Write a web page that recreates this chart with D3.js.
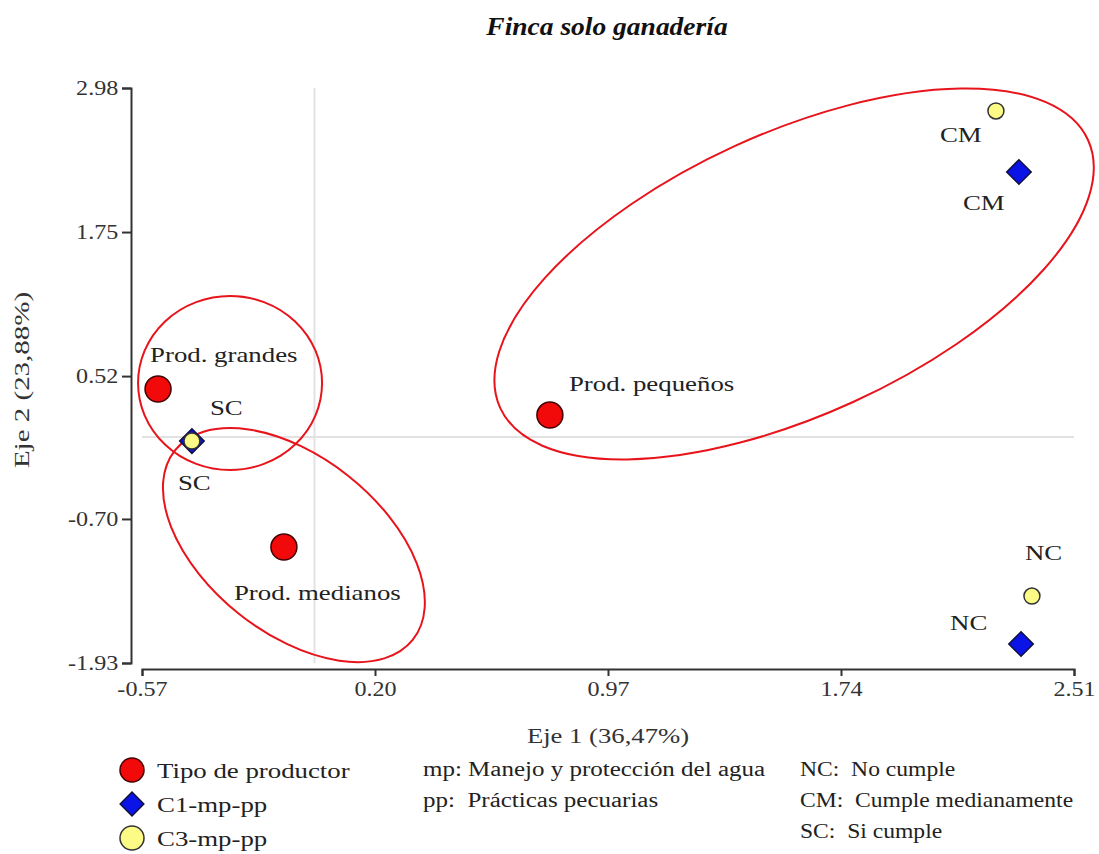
<!DOCTYPE html>
<html>
  <head>
    <meta charset="utf-8">
    <script src="https://d3js.org/d3.v7.min.js"></script>
    <style>
    body { margin: 0; background: #fff; }
    </style>
  </head>
  <body>
    <div id="chart"></div>
    <script>

    // --- data ---
    var prodNames = ["Prod. grandes", "Prod. medianos", "Prod. pequeños"];
    var prodX = [-0.517, -0.101, 0.778];
    var prodY = [0.41, -0.94, 0.187];

    var c1Names = ["SC", "CM", "NC"];
    var c1X = [-0.405, 2.328, 2.335];
    var c1Y = [-0.035, 2.263, -1.768];

    var c3Names = ["SC", "CM", "NC"];
    var c3X = [-0.405, 2.252, 2.371];
    var c3Y = [-0.035, 2.784, -1.358];

    var xTicks = [-0.57, 0.20, 0.97, 1.74, 2.51];
    var yTicks = [-1.93, -0.70, 0.52, 1.75, 2.98];

    // label placement (pixels relative to the mark)
    var prodLabelOff = [[-8, -27], [-50, 53], [19, -24]];
    var c1LabelOff = [[-14, 49], [-56, 38], [-71, -14]];
    var c3LabelOff = [[18, -26], [-56, 31], [-7, -36]];

    // ellipses: centre in data units, semi-axes in pixels, angle in degrees
    var ellipses = [
      {cx: -0.279, cy: 0.461, a: 92, b: 87, angle: 0},
      {cx: -0.068, cy: -0.923, a: 152, b: 88, angle: 38.5},
      {cx: 1.585, cy: 1.392, a: 323, b: 141, angle: -24.5}
    ];

    var serif = "'Liberation Serif', 'Times New Roman', serif";
    var stretch = 1.22;   // the source font is wider than Times
    var width = 1099, height = 854;

    var svg = d3.select("#chart").append("svg")
        .attr("width", width)
        .attr("height", height)
        .style("font-family", serif);

    var x = d3.scaleLinear().domain([-0.57, 2.51]).range([142, 1074]);
    var y = d3.scaleLinear().domain([-1.93, 2.98]).range([663, 88]);

    var fmt = function(d) { return d3.format(".2f")(d).replace("−", "-"); };

    function addText(parent, tx, ty, txt, size, opts) {
      opts = opts || {};
      var t = parent.append("text")
          .attr("transform", "translate(" + tx + "," + ty + ")" + (opts.rotate ? " rotate(" + opts.rotate + ")" : "") + " scale(" + (opts.sx || stretch) + ",1)")
          .attr("text-anchor", opts.anchor || "start")
          .attr("fill", opts.fill || "#222")
          .style("font-size", size + "px")
          .style("white-space", "pre")
          .text(txt);
      if (opts.bold) t.attr("font-weight", "bold");
      if (opts.italic) t.attr("font-style", "italic");
      return t;
    }

    // reference lines at 0
    svg.append("line")
        .attr("x1", x(0)).attr("x2", x(0))
        .attr("y1", y(2.98)).attr("y2", y(-1.93))
        .attr("stroke", "#e2e2e2").attr("stroke-width", 2);
    svg.append("line")
        .attr("x1", x(-0.57)).attr("x2", x(2.51))
        .attr("y1", y(0)).attr("y2", y(0))
        .attr("stroke", "#e2e2e2").attr("stroke-width", 2);

    // axes
    var yAxis = svg.append("g")
        .attr("transform", "translate(131,0)")
        .call(d3.axisLeft(y).tickValues(yTicks).tickFormat(fmt).tickSize(9).tickPadding(2));

    var xAxis = svg.append("g")
        .attr("transform", "translate(0,669)")
        .call(d3.axisBottom(x).tickValues(xTicks).tickFormat(fmt).tickSize(7).tickPadding(5));

    [xAxis, yAxis].forEach(function(g) {
      g.attr("font-family", null).attr("font-size", null);
      g.selectAll("path, line").attr("stroke", "#333").attr("stroke-width", 2);
      g.selectAll("text")
        .style("font-family", serif)
        .style("font-size", "21px")
        .attr("transform", "scale(1.15,1)")
        .attr("fill", "#333");
    });

    // axis titles
    addText(svg, 608, 743, "Eje 1 (36,47%)", 21, {anchor: "middle", fill: "#333", sx: 1.27});
    addText(svg, 29, 380, "Eje 2 (23,88%)", 21, {anchor: "middle", fill: "#333", rotate: -90, sx: 1.38});

    // title
    addText(svg, 607, 35, "Finca solo ganadería", 25, {anchor: "middle", fill: "#111", bold: true, italic: true, sx: 1.1});

    // ellipses
    svg.append("g").selectAll("ellipse")
        .data(ellipses)
        .enter().append("ellipse")
        .attr("transform", function(d) { return "translate(" + x(d.cx) + "," + y(d.cy) + ") rotate(" + d.angle + ")"; })
        .attr("rx", function(d) { return d.a; })
        .attr("ry", function(d) { return d.b; })
        .attr("fill", "none")
        .attr("stroke", "#e8141c")
        .attr("stroke-width", 2);

    // C1 diamonds
    var diamond = d3.symbol().type(d3.symbolSquare).size(300);
    c1Names.forEach(function(n, i) {
      svg.append("path")
          .attr("d", diamond())
          .attr("transform", "translate(" + x(c1X[i]) + "," + y(c1Y[i]) + ") rotate(45)")
          .attr("fill", "#0a14e6")
          .attr("stroke", "#101040")
          .attr("stroke-width", 1.5);
    });

    // C3 circles
    c3Names.forEach(function(n, i) {
      svg.append("circle")
          .attr("cx", x(c3X[i])).attr("cy", y(c3Y[i]))
          .attr("r", 8)
          .attr("fill", "#fbfb86")
          .attr("stroke", "#333")
          .attr("stroke-width", 1.5);
    });

    // producer circles
    prodNames.forEach(function(n, i) {
      svg.append("circle")
          .attr("cx", x(prodX[i])).attr("cy", y(prodY[i]))
          .attr("r", 13)
          .attr("fill", "#f20a0a")
          .attr("stroke", "#400")
          .attr("stroke-width", 1.5);
    });

    // point labels
    prodNames.forEach(function(n, i) {
      addText(svg, x(prodX[i]) + prodLabelOff[i][0], y(prodY[i]) + prodLabelOff[i][1], n, 22);
    });
    c1Names.forEach(function(n, i) {
      addText(svg, x(c1X[i]) + c1LabelOff[i][0], y(c1Y[i]) + c1LabelOff[i][1], n, 22);
    });
    c3Names.forEach(function(n, i) {
      addText(svg, x(c3X[i]) + c3LabelOff[i][0], y(c3Y[i]) + c3LabelOff[i][1], n, 22);
    });

    // legend
    var legendItems = ["Tipo de productor", "C1-mp-pp", "C3-mp-pp"];
    var lg = svg.append("g");
    legendItems.forEach(function(t, i) {
      var ly = 770 + i * 34;
      if (i === 0) {
        lg.append("circle").attr("cx", 132).attr("cy", ly).attr("r", 12)
          .attr("fill", "#f20a0a").attr("stroke", "#400").attr("stroke-width", 1.5);
      } else if (i === 1) {
        lg.append("path").attr("d", d3.symbol().type(d3.symbolSquare).size(280)())
          .attr("transform", "translate(132," + ly + ") rotate(45)")
          .attr("fill", "#0a14e6").attr("stroke", "#101040").attr("stroke-width", 1.5);
      } else {
        lg.append("circle").attr("cx", 132).attr("cy", ly).attr("r", 12)
          .attr("fill", "#fbfb86").attr("stroke", "#333").attr("stroke-width", 1.5);
      }
      addText(lg, 157, ly + 8, t, 22);
    });

    var abbrevMid = ["mp: Manejo y protección del agua", "pp:  Prácticas pecuarias"];
    abbrevMid.forEach(function(t, i) {
      addText(lg, 423, 776 + i * 31, t, 20, {sx: 1.25});
    });

    var abbrevRight = ["NC:  No cumple", "CM:  Cumple medianamente", "SC:  Si cumple"];
    abbrevRight.forEach(function(t, i) {
      addText(lg, 800, 776 + i * 31, t, 20, {sx: 1.18});
    });

    </script>
  </body>
</html>
